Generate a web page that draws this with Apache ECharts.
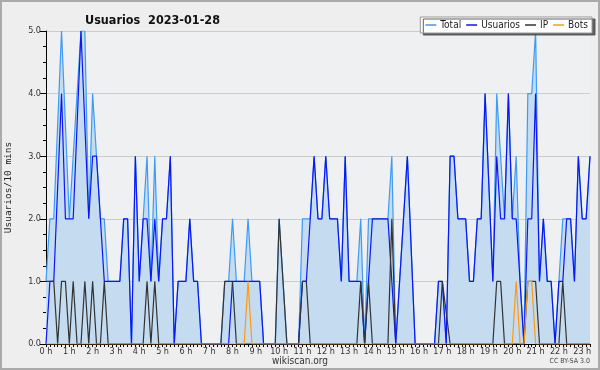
<!DOCTYPE html>
<html><head><meta charset="utf-8">
<script src="https://cdn.jsdelivr.net/npm/echarts@6/dist/echarts.min.js"></script>
<style>html,body{margin:0;padding:0;background:#eeeeee;}#c{width:600px;height:370px;}</style>
</head><body><div id="c"></div>
<script>
const titleText = 'Usuarios  2023-01-28';
const yAxisName = 'Usuarios/10 mins';
const seriesNames = ['Total', 'Usuarios', 'IP', 'Bots'];
const footerText = 'wikiscan.org';
const licenseText = 'CC BY-SA 3.0';
const yTicks = [0, 1, 2, 3, 4, 5];

// 10-minute slots, 0:00 ... 23:20
const times = [];
for (let h = 0; h < 24; h++) for (let m = 0; m < 60; m += 10) times.push(h + ':' + (m < 10 ? '0' : '') + m);
times.length = 141;

const total = [
  1,2,2,null,5,null,2,3,4,5,5,2,4,3,2,2,1,1,1,1,2,2,0,3,1,
  2,3,1,3,1,2,2,3,0,1,1,1,2,1,1,0,
  0,0,0,0,0,
  1,1,2,1,1,1,2,1,1,1,0,
  0,0,0,
  2,1,0,0,0,0,
  2,2,2,3,2,2,3,
  2,2,2,1,3,1,1,1,2,0,2,2,2,2,2,2,3,0,1,2,3,null,0,
  0,0,0,0,
  0,1,1,0,3,3,2,2,2,1,1,2,2,4,null,1,4,3,2,4,2,3,1,0,
  4,4,5,1,2,1,1,0,1,2,2,2,1,3,2,2,3
];
const usuarios = [
  0,1,1,null,4,2,2,2,null,5,null,2,3,3,2,1,1,1,1,1,2,2,0,3,1,
  2,2,1,2,1,2,2,3,0,1,1,1,2,1,1,0,
  0,0,0,0,0,0,0,
  1,1,1,1,1,1,1,1,
  0,0,0,0,0,0,0,0,0,0,
  1,1,2,3,2,2,3,
  2,2,2,1,3,1,1,1,1,0,1,2,2,2,2,2,1,0,1,2,3,null,0,
  0,0,0,0,
  0,1,1,0,3,3,2,2,2,1,1,2,2,4,null,1,3,2,2,4,2,2,1,0,
  2,2,4,1,2,1,1,0,1,1,2,2,1,3,2,2,3
];
const ip = [
  1,1,1,0,1,1,0,1,0,0,1,0,1,0,0,1,0,
  0,0,0,0,0,0,0,0,0,
  1,0,1,0,
  0,0,0,0,0,0,0,0,0,0,0,0,0,0,0,0,
  1,1,1,0,
  0,0,0,0,0,0,0,0,0,0,
  2,1,0,
  0,0,0,
  1,1,0,
  0,0,0,0,0,0,0,0,0,0,0,0,
  1,0,1,0,
  0,0,0,0,
  2,0,
  0,0,0,0,0,0,0,0,0,0,0,
  1,null,
  0,0,0,0,0,0,0,0,0,0,0,0,
  1,1,
  0,0,0,0,0,0,
  1,1,1,
  0,0,0,0,0,0,
  1,
  0,0,0,0,0,0,0
];
const bots = [
  0,0,0,0,0,0,0,0,0,0,0,0,0,0,0,0,0,0,0,0,0,0,0,0,0,
  0,0,0,0,0,0,0,0,0,0,0,0,0,0,0,0,0,0,0,0,0,0,0,0,0,
  0,0,1,0,0,0,0,0,0,0,0,0,0,0,0,0,0,0,0,0,0,0,0,0,0,
  0,0,0,0,0,0,0,0,0,0,0,0,0,0,0,0,0,0,0,0,0,0,0,0,0,
  0,0,0,0,0,0,0,0,0,0,0,0,0,0,0,0,0,0,0,0,0,1,0,0,1,
  1,0,0,0,0,0,0,0,0,0,0,0,0,0,0,0
];

const colors = ['#3d9bf5', '#0a16f5', '#333333', '#ff9a10'];
const chart = echarts.init(document.getElementById('c'), null, {renderer: 'canvas'});
const lineSeries = (name, data, color, extra) => Object.assign({
  name, type: 'line', data, symbol: 'none', connectNulls: true,
  lineStyle: {color, width: 1.2}, itemStyle: {color}, emphasis: {disabled: true}
}, extra || {});

chart.setOption({
  animation: false,
  backgroundColor: '#eeeeee',
  textStyle: {fontFamily: 'DejaVu Sans Condensed'},
  title: {
    text: titleText, left: 80, top: 9,
    textStyle: {fontFamily: 'DejaVu Sans Condensed', fontWeight: 'bold', fontSize: 12.5, color: '#111'}
  },
  legend: {
    data: seriesNames, right: 8, top: 17, orient: 'horizontal', icon: 'rect',
    backgroundColor: '#ffffff', borderColor: '#999', borderWidth: 1,
    shadowColor: 'rgba(80,80,80,0.9)', shadowOffsetX: 3, shadowOffsetY: 2, shadowBlur: 0,
    padding: [3, 4, 3, 5], itemGap: 5, itemWidth: 11, itemHeight: 1.5,
    textStyle: {fontSize: 10, color: '#222', fontFamily: 'DejaVu Sans Condensed', padding: [0, 0, 0, -1]}
  },
  grid: {left: 46, right: 10, top: 31, bottom: 26, show: true, backgroundColor: '#eef0f2', borderWidth: 0,
    containLabel: false, outerBoundsMode: 'none'},
  xAxis: {
    type: 'category', data: times, boundaryGap: false,
    axisLine: {lineStyle: {color: '#000', width: 1}},
    axisTick: {interval: 0, length: 3, lineStyle: {color: '#000'}},
    axisLabel: {interval: 5, formatter: v => v.split(':')[0] + ' h', fontSize: 9, color: '#333', margin: 3},
    splitLine: {show: false}
  },
  yAxis: {
    type: 'value', min: yTicks[0], max: yTicks[yTicks.length - 1], interval: 1,
    name: yAxisName, nameLocation: 'middle', nameGap: 32, nameRotate: 90,
    nameTextStyle: {fontFamily: 'DejaVu Sans Mono', fontSize: 9.5, color: '#222'},
    axisLine: {show: true, lineStyle: {color: '#000'}},
    axisTick: {show: true, length: 6, lineStyle: {color: '#000'}},
    minorTick: {show: true, splitNumber: 4, length: 3, lineStyle: {color: '#000'}},
    axisLabel: {formatter: v => v.toFixed(1), fontSize: 9, color: '#333', margin: 5},
    splitLine: {lineStyle: {color: '#cccccc'}}
  },
  graphic: [
    {type: 'rect', shape: {x: 1, y: 1, width: 598, height: 368}, style: {fill: 'none', stroke: '#aaaaaa', lineWidth: 2}, silent: true},
    {type: 'text', left: 'center', top: 356, style: {text: footerText, fontSize: 10, fill: '#333', fontFamily: 'DejaVu Sans Condensed'}},
    {type: 'text', right: 10, top: 358, style: {text: licenseText, fontSize: 7, fill: '#444', fontFamily: 'DejaVu Sans Condensed'}}
  ],
  series: [
    lineSeries(seriesNames[0], total, colors[0], {areaStyle: {color: '#c5dcf0', opacity: 1}}),
    lineSeries(seriesNames[1], usuarios, colors[1]),
    lineSeries(seriesNames[2], ip, colors[2]),
    lineSeries(seriesNames[3], bots, colors[3])
  ]
});
</script></body></html>
